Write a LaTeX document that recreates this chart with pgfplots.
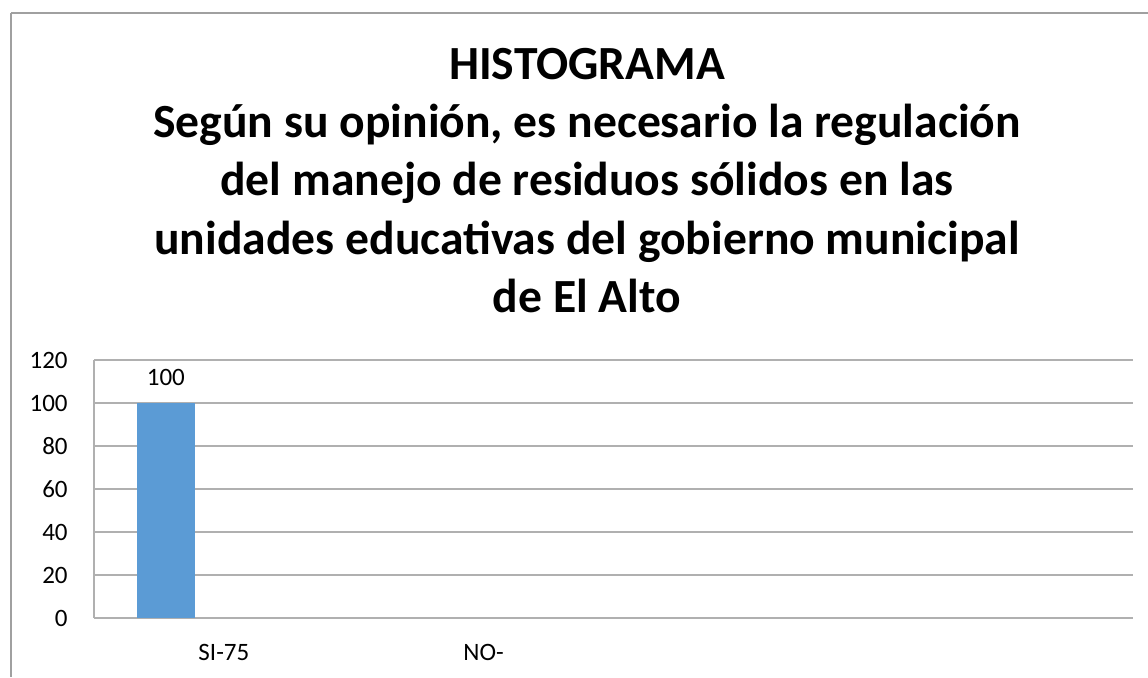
\documentclass[border=0pt]{standalone}
\usepackage{fontspec}
\setmainfont{Carlito}
\usepackage{pgfplots}
\pgfplotsset{compat=1.18}
\definecolor{barblue}{HTML}{5B9BD5}
\definecolor{gridgray}{HTML}{B0B0B0}
\definecolor{framegray}{HTML}{A0A0A0}
\begin{document}
\begin{tikzpicture}
% 1 px of the reference = 0.5pt
\useasboundingbox (0,0) rectangle (574pt,338.5pt);
\draw[framegray, line width=0.6pt] (5.5pt,332pt) -- (574pt,332pt);
\draw[framegray, line width=0.6pt] (5.5pt,332pt) -- (5.5pt,0pt);

\begin{axis}[
  at={(47pt,29.5pt)}, anchor=south west,
  scale only axis, width=519.5pt, height=129pt,
  ybar, bar width=29pt,
  xmin=-0.5, xmax=3.5, ymin=0, ymax=120,
  xtick={0,1,2,3}, xticklabels={SI-75,NO-,,},
  ytick={0,20,40,60,80,100,120},
  axis x line*=bottom, axis y line*=left,
  axis line style={gridgray, line width=0.75pt, -},
  major tick length=0pt,
  ymajorgrids=true, grid style={gridgray, line width=0.75pt},
  tick label style={font=\fontsize{12.5}{15}\selectfont},
  /pgf/number format/assume math mode=true,
  xticklabel style={anchor=center, yshift=-17pt},
  yticklabel style={anchor=east, inner sep=0pt, xshift=-13pt},
  nodes near coords,
  every node near coord/.append style={font=\fontsize{12.5}{15}\selectfont, anchor=center, yshift=13pt},
]
\addplot[fill=barblue, draw=none, bar shift=-29pt] coordinates {(0,100)};
\end{axis}

\begin{scope}[every node/.style={anchor=base, font=\fontsize{23.8}{29}\selectfont\bfseries, inner sep=0pt}]
\node at (293.5pt,299pt) {HISTOGRAMA};
\node at (293.5pt,270pt) {Según su opinión, es necesario la regulación};
\node at (293.5pt,241pt) {del manejo de residuos sólidos en las};
\node at (293.5pt,211.5pt) {unidades educativas del gobierno municipal};
\node at (293.5pt,182.5pt) {de El Alto};
\end{scope}
\end{tikzpicture}
\end{document}
